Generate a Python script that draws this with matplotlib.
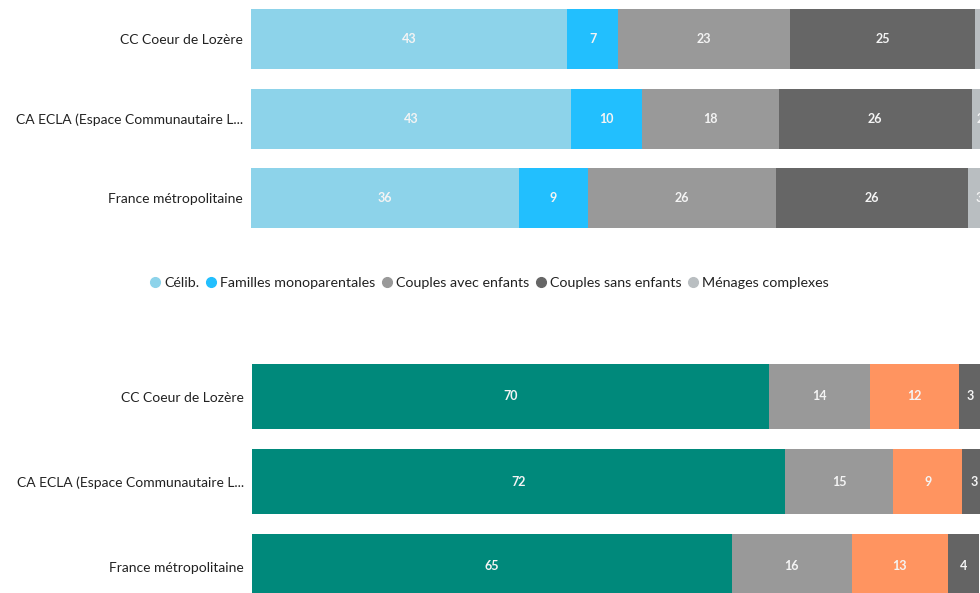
import matplotlib.pyplot as plt
from matplotlib.lines import Line2D
import numpy as np

plt.rcParams['font.family'] = ['Lato', 'DejaVu Sans']

# Top chart: household types (%)
territoires = ['CC Coeur de Lozère', 'CA ECLA (Espace Communautaire L...', 'France métropolitaine']
menage_labels = ['Célib.', 'Familles monoparentales', 'Couples avec enfants',
                 'Couples sans enfants', 'Ménages complexes']
celib = [42.7, 43.2, 36.2]
monoparent = [6.9, 9.6, 9.3]
avec_enfants = [23.2, 18.5, 25.5]
sans_enfants = [25.1, 26.1, 25.9]
complexes = [2.1, 2.4, 3.1]
menage_colors = ['#8dd3ea', '#22bffe', '#999999', '#666666', '#b9bec1']

# Bottom chart (legend is cropped out of the reference)
bas_1 = [70.1, 72.3, 65.1]
bas_2 = [13.7, 14.7, 16.3]
bas_3 = [12.1, 9.4, 13.0]
bas_4 = [3.2, 3.2, 4.3]
bas_colors = ['#00897b', '#999999', '#ff9460', '#646464']

W, H = 980, 593
fig = plt.figure(figsize=(W / 100, H / 100), dpi=100)

def px_axes(left, top, width, height):
    return fig.add_axes([left / W, 1 - (top + height) / H, width / W, height / H])

def stacked(ax, series, colors, bar_h):
    y = np.arange(len(territoires))
    left = np.zeros(len(territoires))
    for i, vals in enumerate(series):
        vals = np.array(vals)
        ax.barh(y, vals, left=left, height=bar_h, color=colors[i], edgecolor='none')
        for yy, l, v in zip(y, left, vals):
            ax.text(l + v / 2, yy, f'{v:.0f}', ha='center', va='center',
                    color='#f4f4f4', fontsize=9, fontweight='bold', clip_on=False)
        left += vals
    ax.set_ylim(len(territoires) - 0.5, -0.5)
    ax.set_xlim(0, 100)
    ax.set_yticks(y)
    ax.set_yticklabels(territoires, fontsize=10, color='#222222')
    ax.tick_params(axis='y', length=0, pad=6)
    ax.set_xticks([])
    for s in ax.spines.values():
        s.set_visible(False)

ax1 = px_axes(251, -0.5, 740, 238.5)
stacked(ax1, [celib, monoparent, avec_enfants, sans_enfants, complexes],
        menage_colors, 0.75)

ax2 = px_axes(252, 354, 737, 255)
stacked(ax2, [bas_1, bas_2, bas_3, bas_4], bas_colors, 0.765)

handles = [Line2D([], [], marker='o', ls='none', color=c, markersize=7) for c in menage_colors]
fig.legend(handles=handles, labels=menage_labels, loc='center', ncol=5,
           bbox_to_anchor=(489 / W, 1 - 283 / H), frameon=False, fontsize=10.3,
           handlelength=0.8, handletextpad=0.25, columnspacing=0.4,
           labelcolor='#222222')

fig.savefig('out.png', dpi=100)
